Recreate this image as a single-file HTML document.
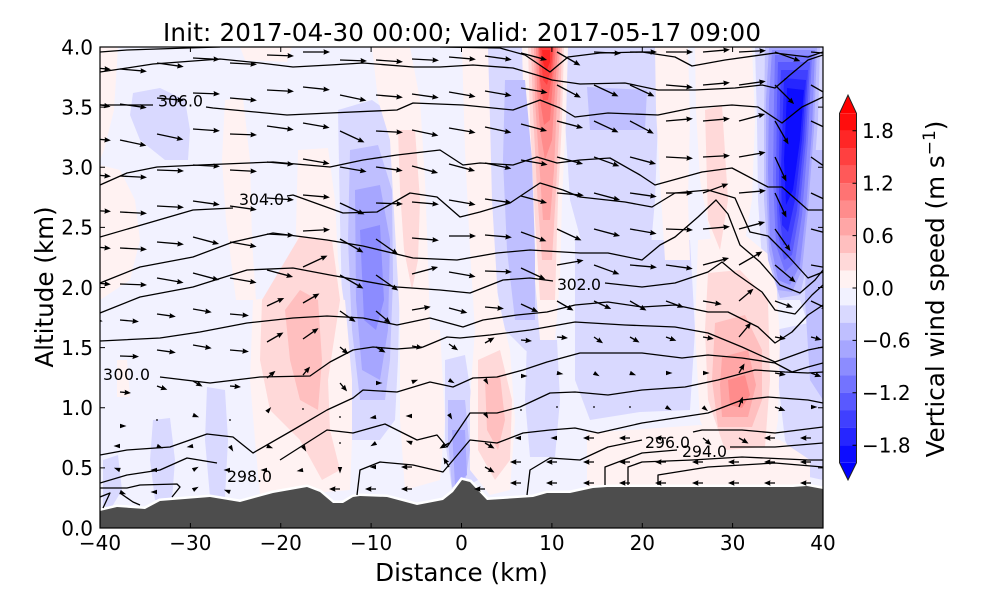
<!DOCTYPE html>
<html><head><meta charset="utf-8"><style>
html,body{margin:0;padding:0;background:#fff;}
svg{display:block;}
text{font-family:"DejaVu Sans","Liberation Sans",sans-serif;fill:#000;}
</style></head><body>
<svg width="1000" height="600" viewBox="0 0 1000 600" xmlns="http://www.w3.org/2000/svg">
<defs>
<clipPath id="pc"><rect x="100" y="47" width="723" height="481"/></clipPath>
<path id="A" d="M0,-0.65L21,-0.65L20.5,-2.7L27,0L20.5,2.7L21,0.65L0,0.65Z"/>
<path id="B" d="M0,-0.65L13,-0.65L12.5,-2.7L19,0L12.5,2.7L13,0.65L0,0.65Z"/>
<path id="C" d="M0,-0.65L5,-0.65L4.5,-2.7L11,0L4.5,2.7L5,0.65L0,0.65Z"/>
<path id="D" d="M0,-2.2L6.5,0L0,2.2Z"/>
<circle id="E" cx="0" cy="0" r="0.9"/>
</defs>
<rect width="1000" height="600" fill="#fff"/>
<g clip-path="url(#pc)">
<rect x="100" y="47" width="723" height="481" fill="#f2f2ff"/>
<!-- light blue -->
<g fill="#d9d9ff">
<polygon points="133,93 160,88 185,100 190,130 188,160 165,160 140,140 130,115"/>
<polygon points="338,110 372,100 400,120 402,200 400,280 398,360 395,420 380,440 352,440 345,380 342,300 340,220"/>
<polygon points="470,47 530,47 540,120 545,240 548,330 540,360 525,350 505,330 495,280 480,200 472,120"/>
<polygon points="445,360 465,355 475,420 478,480 465,487 452,490 445,440"/>
<polygon points="560,47 655,47 658,120 655,200 650,257 620,262 585,255 570,200 565,120"/>
<polygon points="575,240 690,240 695,330 690,410 640,412 590,420 575,380"/>
<polygon points="103,460 118,455 122,490 110,510 103,505"/>
<polygon points="153,420 170,418 175,460 172,500 155,500 150,460"/>
<polygon points="207,387 225,390 228,440 225,497 210,497 205,440"/>
<polygon points="527,340 557,340 560,400 555,457 530,457 525,400"/>
<polygon points="775,330 823,320 823,480 800,475 785,440 778,380"/>
<polygon points="755,47 823,47 823,330 810,330 800,300 790,300 772,300 762,260 758,200 757,120"/>
</g>
<!-- pink -->
<g fill="#fff2f2">
<polygon points="100,47 118,47 114,110 104,150 100,160"/>
<polygon points="100,165 120,170 135,200 140,240 130,280 100,300"/>
<polygon points="117,360 127,360 130,397 117,397"/>
<polygon points="240,47 292,47 287,62 245,60"/>
<polygon points="225,100 243,98 250,160 252,240 256,300 236,300 226,220 222,160"/>
<polygon points="298,150 328,148 335,200 338,260 345,310 300,300 296,230"/>
<polygon points="253,300 300,292 345,300 352,380 352,440 350,490 300,494 260,495 255,440 250,380"/>
<polygon points="372,47 410,47 420,100 425,180 428,260 430,330 432,420 420,440 405,400 400,320 395,230 390,140 378,100"/>
<polygon points="400,330 440,330 445,420 440,480 405,490 400,420"/>
<polygon points="462,47 488,47 490,120 492,200 498,300 510,350 515,420 510,490 490,495 470,470 470,400 475,330 470,250 465,150"/>
<polygon points="522,47 568,47 566,120 562,200 560,280 555,340 540,340 535,280 528,200 524,120"/>
<polygon points="655,47 688,47 690,120 688,200 690,260 665,260 660,180 656,110"/>
<polygon points="695,47 752,47 755,120 752,200 745,240 712,245 700,180 696,110"/>
<polygon points="698,240 745,235 775,260 780,340 778,420 770,467 720,470 700,420 695,330"/>
<polygon points="587,433 700,425 780,440 810,460 810,490 587,490"/>
</g>
<g fill="#ffd9d9">
<polygon points="262,300 300,236 332,240 340,300 328,380 330,430 340,470 322,480 300,440 270,410 260,360"/>
<polygon points="398,130 415,130 420,200 418,260 412,290 404,250 400,190"/>
<polygon points="478,360 500,350 512,400 510,460 495,480 478,450"/>
<polygon points="528,47 564,47 562,120 558,200 555,300 540,300 535,220 530,120"/>
<polygon points="705,110 722,105 728,200 720,250 708,220"/>
<polygon points="708,273 740,270 768,300 770,380 765,447 725,450 708,400 705,330"/>
</g>
<g fill="#ffbfbf">
<polygon points="285,310 300,290 318,300 322,360 318,410 300,400 290,360"/>
<polygon points="485,380 500,375 505,420 498,450 487,430"/>
<polygon points="531,47 562,47 560,110 556,190 552,260 542,260 537,190 533,110"/>
<polygon points="715,323 745,315 762,350 762,400 752,427 718,427 712,380"/>
</g>
<g fill="#ffa6a6">
<polygon points="534,47 560,47 557,100 554,170 550,220 543,220 539,160 535,100"/>
<polygon points="722,357 748,350 756,385 748,417 722,417 720,385"/>
</g>
<polygon fill="#ff8c8c" points="536,47 558,47 555,90 552,140 545,160 540,130 537,90"/>
<polygon fill="#ff8c8c" points="728,380 745,375 750,395 742,408 730,405"/>
<polygon fill="#ff7373" points="538,47 556,47 553,80 550,120 544,125 540,100"/>
<polygon fill="#ff5959" points="539,47 554,47 552,75 548,100 543,100 540,80"/>
<polygon fill="#ff4040" points="540,47 553,47 551,68 547,85 543,80"/>
<polygon fill="#ff2626" points="542,50 550,50 550,62 546,72 543,62"/>
<!-- medium blues -->
<g fill="#bfbfff">
<polygon points="350,150 378,145 392,190 393,280 390,360 385,400 360,400 352,330 348,240"/>
<polygon points="505,80 525,80 532,160 535,250 535,320 515,320 507,250 503,160"/>
<polygon points="448,400 465,400 470,450 465,483 452,487 448,440"/>
<polygon points="587,87 647,90 645,130 590,130"/>
<polygon points="808,150 823,150 823,400 810,380 805,300"/>
<polygon points="765,47 820,47 818,120 812,200 808,260 800,295 780,298 768,260 764,200 764,120"/>
</g>
<g fill="#a6a6ff">
<polygon points="355,190 380,185 390,240 388,330 380,380 362,370 356,300"/>
<polygon points="452,430 465,430 467,475 455,485"/>
<polygon points="769,48 817,48 814,130 808,210 802,270 792,292 778,290 769,250 766,180 766,100"/>
</g>
<polygon fill="#8c8cff" points="360,230 380,225 384,300 376,330 364,320"/>
<polygon fill="#8c8cff" points="772,50 815,50 812,130 806,210 800,265 790,285 778,280 770,240 768,170 769,100"/>
<polygon fill="#7373ff" points="775,55 812,55 808,140 802,215 795,262 785,272 776,245 773,180 774,100"/>
<polygon fill="#5959ff" points="778,62 810,62 806,140 799,215 792,255 784,260 778,235 776,180 777,100"/>
<polygon fill="#4040ff" points="781,70 808,70 804,140 797,210 790,245 783,245 779,210 779,160 780,100"/>
<polygon fill="#2626ff" points="784,78 806,80 802,140 795,200 788,232 782,225 781,170 783,110"/>
<polygon fill="#0d0dff" points="787,88 804,90 800,140 793,190 786,205 784,160 786,115"/>
<!-- terrain -->
<polyline fill="none" stroke="#fff" stroke-width="5" points="100,511 117,507 145,509 160,501 210,497 240,502 273,493 307,487 320,492 333,503 343,503 353,497 360,496 387,497 417,505 443,500 453,492 462,480 470,482 487,500 533,497 547,493 570,493 593,488 607,487 660,487 793,487 807,486 823,489"/>
<polygon fill="#4d4d4d" points="100,511 117,507 145,509 160,501 210,497 240,502 273,493 307,487 320,492 333,503 343,503 353,497 360,496 387,497 417,505 443,500 453,492 462,480 470,482 487,500 533,497 547,493 570,493 593,488 607,487 660,487 793,487 807,486 823,489 823,530 100,530"/>
<!-- contours -->
<g fill="none" stroke="#000" stroke-width="1.3" stroke-linejoin="round">
<polyline points="100,52 127,50 187,48 220,47"/>
<polyline points="440,47 500,48 525,55 550,72 568,57 600,53 642,52 675,57 692,66 725,60 775,53 808,57 823,52"/>
<polyline points="100,72 127,68 153,64 220,59 260,63 293,67 330,65 363,63 413,67 440,67 473,65 513,68 540,76 552,80 580,84 625,83 658,90 695,90 735,88 762,85 775,88 790,75 808,60 823,55"/>
<polyline points="100,105 153,105"/>
<polyline points="206,107 213,108 287,115 330,113 397,110 413,103 463,105 513,110 540,100 560,108 575,117 608,113 658,115 692,108 732,105 758,107 782,123 802,107 823,97"/>
<polyline points="100,185 127,173 157,167 200,165 273,162 330,167 363,160 397,155 440,150 463,165 480,163 513,165 537,157 557,163 580,160 610,158 640,175 655,185 702,172 732,168 768,187 782,187 808,210 823,210"/>
<polyline points="100,237 193,210 233,208"/>
<polyline points="287,196 293,195 343,213 377,212 410,193 437,197 460,217 480,212 510,203 540,183 563,190 580,197 625,202 652,207 675,193 708,190 735,198 750,232 768,236 788,256 808,278 823,272"/>
<polyline points="100,283 140,267 193,257 233,242 273,233 327,240 363,246 413,258 457,260 497,253 530,250 580,253 608,253 642,260 660,245 675,237 698,217 716,200 728,214 740,245 760,262 780,285 800,293 815,280 823,270"/>
<polyline points="100,313 140,297 193,287 247,270 293,268 330,275 397,287 440,290 470,293 503,280 530,278 553,281"/>
<polyline points="605,283 642,287 675,283 708,272 722,262 735,273 762,292 775,310 795,314 812,295 823,285"/>
<polyline points="100,341 160,338 200,332 247,323 293,318 327,316 363,318 397,325 430,318 463,327 483,320 517,315 547,312 575,305 608,302 642,307 675,305 708,312 728,312 758,327 775,343 792,332 808,315 823,305"/>
<polyline points="160,377 210,383 260,377 310,376 330,362 353,350 373,347 397,349 423,347 447,337 460,338 490,335 530,330 575,322 625,325 675,327 708,333 742,347 775,362 808,350 823,347"/>
<polyline points="100,455 127,450 170,447 207,434 233,437 253,453 293,430 327,410 353,398 363,390 397,392 430,382 453,387 473,378 497,377 523,370 547,362 580,353 642,353 682,358 708,355 742,358 775,363 792,372 808,367 823,363"/>
<polyline points="100,483 127,475 160,470 187,458 217,463"/>
<polyline points="280,460 327,430 353,433 385,424 417,440 437,435 447,447 470,413 497,413 520,407 550,393 575,392 608,395 642,390 685,387 718,380 755,370 785,372 808,373 823,372"/>
<polyline points="357,495 360,470 380,462 413,465 443,472 470,440 497,443 523,433 550,430 575,428 598,433 642,423 675,418 708,413 742,400 768,397 808,400 823,403"/>
<polyline points="527,495 530,470 550,458 580,460 608,447 642,440"/>
<polyline points="693,432 702,430 742,430 775,433 823,427"/>
<polyline points="605,485 605,467 642,453 677,450"/>
<polyline points="730,447 775,447 823,443"/>
<polyline points="628,485 628,467 642,462 692,460 742,457 808,460 823,460"/>
<polyline points="658,485 658,475 708,467 775,463 823,467"/>
<polyline points="100,488 127,488 140,485 177,484 180,487 172,497"/>
<polyline points="100,497 110,493 103,508"/>
<polyline points="120,493 133,502 140,505"/>
</g>
<!-- contour labels -->
<g font-size="15.7">
<text x="158" y="106.5" textLength="45">306.0</text>
<text x="239" y="205" textLength="45">304.0</text>
<text x="557" y="290" textLength="44">302.0</text>
<text x="103" y="380" textLength="47">300.0</text>
<text x="227" y="482" textLength="45">298.0</text>
<text x="645" y="448" textLength="45">296.0</text>
<text x="682" y="457" textLength="45">294.0</text>
</g>
<!-- arrows -->
<g fill="#000">
<use href="#A" transform="translate(84,67)rotate(5)"/>
<use href="#A" transform="translate(120,69)rotate(5)"/>
<use href="#A" transform="translate(157,63)rotate(8)"/>
<use href="#A" transform="translate(193,58)rotate(3)"/>
<use href="#A" transform="translate(230,63)rotate(3)"/>
<use href="#A" transform="translate(267,55)rotate(2)"/>
<use href="#A" transform="translate(303,52)rotate(0)"/>
<use href="#A" transform="translate(340,60)rotate(2)"/>
<use href="#A" transform="translate(376,60)rotate(4)"/>
<use href="#A" transform="translate(412,59)rotate(3)"/>
<use href="#A" transform="translate(449,57)rotate(5)"/>
<use href="#A" transform="translate(485,56)rotate(8)"/>
<use href="#A" transform="translate(521,53)rotate(15)"/>
<use href="#A" transform="translate(557,52)rotate(30)"/>
<use href="#A" transform="translate(594,52)rotate(3)"/>
<use href="#A" transform="translate(630,52)rotate(0)"/>
<use href="#A" transform="translate(666,52)rotate(0)"/>
<use href="#A" transform="translate(703,52)rotate(-5)"/>
<use href="#A" transform="translate(739,52)rotate(-3)"/>
<use href="#A" transform="translate(775,52)rotate(20)"/>
<use href="#A" transform="translate(811,52)rotate(5)"/>
<use href="#A" transform="translate(84,102)rotate(10)"/>
<use href="#A" transform="translate(120,104)rotate(8)"/>
<use href="#A" transform="translate(157,98)rotate(5)"/>
<use href="#A" transform="translate(193,93)rotate(2)"/>
<use href="#A" transform="translate(230,98)rotate(5)"/>
<use href="#A" transform="translate(267,90)rotate(3)"/>
<use href="#A" transform="translate(303,87)rotate(6)"/>
<use href="#A" transform="translate(340,95)rotate(12)"/>
<use href="#A" transform="translate(376,95)rotate(5)"/>
<use href="#A" transform="translate(412,94)rotate(8)"/>
<use href="#A" transform="translate(449,92)rotate(10)"/>
<use href="#A" transform="translate(485,91)rotate(10)"/>
<use href="#A" transform="translate(521,88)rotate(10)"/>
<use href="#A" transform="translate(557,85)rotate(28)"/>
<use href="#A" transform="translate(594,85)rotate(25)"/>
<use href="#A" transform="translate(630,85)rotate(25)"/>
<use href="#A" transform="translate(666,85)rotate(5)"/>
<use href="#A" transform="translate(703,85)rotate(-5)"/>
<use href="#A" transform="translate(739,85)rotate(-8)"/>
<use href="#A" transform="translate(775,85)rotate(45)"/>
<use href="#A" transform="translate(811,85)rotate(30)"/>
<use href="#A" transform="translate(84,138)rotate(5)"/>
<use href="#A" transform="translate(120,140)rotate(12)"/>
<use href="#A" transform="translate(157,134)rotate(12)"/>
<use href="#A" transform="translate(193,129)rotate(4)"/>
<use href="#A" transform="translate(230,134)rotate(2)"/>
<use href="#A" transform="translate(267,126)rotate(8)"/>
<use href="#A" transform="translate(303,123)rotate(10)"/>
<use href="#A" transform="translate(340,131)rotate(25)"/>
<use href="#A" transform="translate(376,131)rotate(3)"/>
<use href="#A" transform="translate(412,130)rotate(12)"/>
<use href="#A" transform="translate(449,128)rotate(10)"/>
<use href="#A" transform="translate(485,127)rotate(12)"/>
<use href="#A" transform="translate(521,124)rotate(15)"/>
<use href="#A" transform="translate(557,121)rotate(15)"/>
<use href="#A" transform="translate(594,121)rotate(25)"/>
<use href="#A" transform="translate(630,121)rotate(28)"/>
<use href="#A" transform="translate(666,121)rotate(-5)"/>
<use href="#A" transform="translate(703,121)rotate(-5)"/>
<use href="#A" transform="translate(739,121)rotate(-15)"/>
<use href="#A" transform="translate(775,121)rotate(60)"/>
<use href="#A" transform="translate(811,121)rotate(25)"/>
<use href="#A" transform="translate(84,174)rotate(5)"/>
<use href="#A" transform="translate(120,176)rotate(3)"/>
<use href="#A" transform="translate(157,170)rotate(2)"/>
<use href="#A" transform="translate(193,165)rotate(3)"/>
<use href="#A" transform="translate(230,170)rotate(3)"/>
<use href="#A" transform="translate(267,162)rotate(5)"/>
<use href="#A" transform="translate(303,159)rotate(10)"/>
<use href="#A" transform="translate(340,167)rotate(10)"/>
<use href="#A" transform="translate(376,167)rotate(8)"/>
<use href="#A" transform="translate(412,166)rotate(15)"/>
<use href="#A" transform="translate(449,164)rotate(15)"/>
<use href="#A" transform="translate(485,163)rotate(12)"/>
<use href="#A" transform="translate(521,160)rotate(10)"/>
<use href="#A" transform="translate(557,157)rotate(15)"/>
<use href="#A" transform="translate(594,157)rotate(20)"/>
<use href="#A" transform="translate(630,157)rotate(15)"/>
<use href="#A" transform="translate(666,157)rotate(3)"/>
<use href="#A" transform="translate(703,157)rotate(-3)"/>
<use href="#A" transform="translate(739,157)rotate(-10)"/>
<use href="#A" transform="translate(775,157)rotate(65)"/>
<use href="#A" transform="translate(811,157)rotate(35)"/>
<use href="#A" transform="translate(84,210)rotate(3)"/>
<use href="#A" transform="translate(120,212)rotate(3)"/>
<use href="#A" transform="translate(157,206)rotate(3)"/>
<use href="#A" transform="translate(193,201)rotate(8)"/>
<use href="#A" transform="translate(230,206)rotate(8)"/>
<use href="#A" transform="translate(267,198)rotate(4)"/>
<use href="#A" transform="translate(303,195)rotate(5)"/>
<use href="#A" transform="translate(340,203)rotate(25)"/>
<use href="#A" transform="translate(376,203)rotate(2)"/>
<use href="#A" transform="translate(412,202)rotate(5)"/>
<use href="#A" transform="translate(449,200)rotate(10)"/>
<use href="#A" transform="translate(485,199)rotate(8)"/>
<use href="#A" transform="translate(521,196)rotate(15)"/>
<use href="#A" transform="translate(557,193)rotate(5)"/>
<use href="#A" transform="translate(594,193)rotate(15)"/>
<use href="#A" transform="translate(630,193)rotate(8)"/>
<use href="#A" transform="translate(666,193)rotate(0)"/>
<use href="#A" transform="translate(703,193)rotate(-20)"/>
<use href="#A" transform="translate(739,193)rotate(-5)"/>
<use href="#A" transform="translate(775,193)rotate(65)"/>
<use href="#A" transform="translate(811,193)rotate(25)"/>
<use href="#A" transform="translate(84,246)rotate(5)"/>
<use href="#A" transform="translate(120,248)rotate(3)"/>
<use href="#A" transform="translate(157,242)rotate(5)"/>
<use href="#A" transform="translate(193,237)rotate(15)"/>
<use href="#A" transform="translate(230,242)rotate(10)"/>
<use href="#A" transform="translate(267,234)rotate(3)"/>
<use href="#A" transform="translate(303,231)rotate(-3)"/>
<use href="#A" transform="translate(340,239)rotate(30)"/>
<use href="#A" transform="translate(376,239)rotate(35)"/>
<use href="#A" transform="translate(412,238)rotate(5)"/>
<use href="#A" transform="translate(449,236)rotate(0)"/>
<use href="#A" transform="translate(485,235)rotate(5)"/>
<use href="#A" transform="translate(521,232)rotate(20)"/>
<use href="#A" transform="translate(557,229)rotate(25)"/>
<use href="#A" transform="translate(594,229)rotate(15)"/>
<use href="#A" transform="translate(630,229)rotate(10)"/>
<use href="#A" transform="translate(666,229)rotate(2)"/>
<use href="#A" transform="translate(703,229)rotate(-5)"/>
<use href="#A" transform="translate(739,229)rotate(-15)"/>
<use href="#A" transform="translate(775,229)rotate(55)"/>
<use href="#A" transform="translate(811,229)rotate(15)"/>
<use href="#A" transform="translate(84,282)rotate(5)"/>
<use href="#A" transform="translate(120,284)rotate(2)"/>
<use href="#A" transform="translate(157,278)rotate(10)"/>
<use href="#A" transform="translate(193,273)rotate(15)"/>
<use href="#A" transform="translate(230,278)rotate(10)"/>
<use href="#A" transform="translate(267,270)rotate(15)"/>
<use href="#A" transform="translate(303,267)rotate(-25)"/>
<use href="#A" transform="translate(340,275)rotate(30)"/>
<use href="#A" transform="translate(376,275)rotate(35)"/>
<use href="#A" transform="translate(412,274)rotate(-15)"/>
<use href="#A" transform="translate(449,272)rotate(10)"/>
<use href="#A" transform="translate(485,271)rotate(2)"/>
<use href="#A" transform="translate(521,268)rotate(25)"/>
<use href="#A" transform="translate(557,265)rotate(-10)"/>
<use href="#A" transform="translate(594,265)rotate(20)"/>
<use href="#A" transform="translate(630,265)rotate(5)"/>
<use href="#A" transform="translate(666,265)rotate(8)"/>
<use href="#A" transform="translate(703,265)rotate(-15)"/>
<use href="#A" transform="translate(739,265)rotate(-30)"/>
<use href="#A" transform="translate(775,265)rotate(40)"/>
<use href="#A" transform="translate(811,265)rotate(10)"/>
<use href="#B" transform="translate(84,318)rotate(10)"/>
<use href="#B" transform="translate(120,320)rotate(5)"/>
<use href="#B" transform="translate(157,314)rotate(8)"/>
<use href="#B" transform="translate(193,309)rotate(10)"/>
<use href="#B" transform="translate(230,314)rotate(5)"/>
<use href="#B" transform="translate(267,306)rotate(-25)"/>
<use href="#B" transform="translate(303,303)rotate(-30)"/>
<use href="#B" transform="translate(340,311)rotate(35)"/>
<use href="#B" transform="translate(376,311)rotate(40)"/>
<use href="#B" transform="translate(412,310)rotate(-10)"/>
<use href="#B" transform="translate(449,308)rotate(15)"/>
<use href="#B" transform="translate(485,307)rotate(5)"/>
<use href="#B" transform="translate(521,304)rotate(25)"/>
<use href="#B" transform="translate(557,301)rotate(30)"/>
<use href="#B" transform="translate(594,301)rotate(25)"/>
<use href="#B" transform="translate(630,301)rotate(30)"/>
<use href="#B" transform="translate(666,301)rotate(20)"/>
<use href="#B" transform="translate(703,301)rotate(10)"/>
<use href="#B" transform="translate(739,301)rotate(-40)"/>
<use href="#B" transform="translate(775,301)rotate(20)"/>
<use href="#B" transform="translate(811,301)rotate(25)"/>
<use href="#C" transform="translate(84,354)rotate(0)"/>
<use href="#B" transform="translate(120,356)rotate(2)"/>
<use href="#B" transform="translate(157,350)rotate(8)"/>
<use href="#B" transform="translate(193,345)rotate(10)"/>
<use href="#B" transform="translate(230,350)rotate(5)"/>
<use href="#B" transform="translate(267,342)rotate(-30)"/>
<use href="#B" transform="translate(303,339)rotate(-35)"/>
<use href="#C" transform="translate(340,347)rotate(40)"/>
<use href="#C" transform="translate(376,347)rotate(30)"/>
<use href="#C" transform="translate(412,346)rotate(10)"/>
<use href="#C" transform="translate(449,344)rotate(35)"/>
<use href="#C" transform="translate(485,343)rotate(-30)"/>
<use href="#C" transform="translate(521,340)rotate(5)"/>
<use href="#C" transform="translate(557,337)rotate(5)"/>
<use href="#C" transform="translate(594,337)rotate(35)"/>
<use href="#C" transform="translate(630,337)rotate(30)"/>
<use href="#C" transform="translate(666,337)rotate(20)"/>
<use href="#C" transform="translate(703,337)rotate(10)"/>
<use href="#B" transform="translate(739,337)rotate(-50)"/>
<use href="#C" transform="translate(775,337)rotate(10)"/>
<use href="#C" transform="translate(811,337)rotate(15)"/>
<use href="#C" transform="translate(84,390)rotate(0)"/>
<use href="#C" transform="translate(120,392)rotate(5)"/>
<use href="#C" transform="translate(157,386)rotate(20)"/>
<use href="#C" transform="translate(193,381)rotate(30)"/>
<use href="#C" transform="translate(230,386)rotate(5)"/>
<use href="#C" transform="translate(267,378)rotate(-40)"/>
<use href="#C" transform="translate(303,375)rotate(-50)"/>
<use href="#C" transform="translate(340,383)rotate(50)"/>
<use href="#D" transform="translate(376,383)rotate(0)"/>
<use href="#D" transform="translate(412,382)rotate(-20)"/>
<use href="#D" transform="translate(449,380)rotate(30)"/>
<use href="#D" transform="translate(485,379)rotate(60)"/>
<use href="#D" transform="translate(521,376)rotate(0)"/>
<use href="#D" transform="translate(557,373)rotate(10)"/>
<use href="#D" transform="translate(594,373)rotate(30)"/>
<use href="#D" transform="translate(630,373)rotate(20)"/>
<use href="#D" transform="translate(666,373)rotate(0)"/>
<use href="#D" transform="translate(703,373)rotate(0)"/>
<use href="#C" transform="translate(739,373)rotate(-60)"/>
<use href="#C" transform="translate(775,373)rotate(10)"/>
<use href="#C" transform="translate(811,373)rotate(20)"/>
<use href="#C" transform="translate(84,424)rotate(0)"/>
<use href="#D" transform="translate(120,426)rotate(0)"/>
<use href="#E" transform="translate(157,420)"/>
<use href="#D" transform="translate(193,415)rotate(20)"/>
<use href="#E" transform="translate(230,420)"/>
<use href="#D" transform="translate(267,412)rotate(-50)"/>
<use href="#E" transform="translate(303,409)"/>
<use href="#E" transform="translate(340,417)"/>
<use href="#D" transform="translate(376,417)rotate(170)"/>
<use href="#D" transform="translate(412,416)rotate(180)"/>
<use href="#D" transform="translate(449,414)rotate(60)"/>
<use href="#D" transform="translate(485,413)rotate(60)"/>
<use href="#E" transform="translate(521,410)"/>
<use href="#E" transform="translate(557,407)"/>
<use href="#E" transform="translate(594,407)"/>
<use href="#E" transform="translate(630,407)"/>
<use href="#D" transform="translate(666,407)rotate(30)"/>
<use href="#D" transform="translate(703,407)rotate(40)"/>
<use href="#C" transform="translate(739,407)rotate(-70)"/>
<use href="#C" transform="translate(775,407)rotate(20)"/>
<use href="#D" transform="translate(811,407)rotate(0)"/>
<use href="#C" transform="translate(84,446)rotate(180)"/>
<use href="#D" transform="translate(120,446)rotate(180)"/>
<use href="#D" transform="translate(157,446)rotate(20)"/>
<use href="#D" transform="translate(193,446)rotate(170)"/>
<use href="#D" transform="translate(230,446)rotate(60)"/>
<use href="#D" transform="translate(267,446)rotate(20)"/>
<use href="#D" transform="translate(303,446)rotate(60)"/>
<use href="#E" transform="translate(340,443)"/>
<use href="#D" transform="translate(376,443)rotate(150)"/>
<use href="#D" transform="translate(412,443)rotate(200)"/>
<use href="#C" transform="translate(449,443)rotate(150)"/>
<use href="#C" transform="translate(485,443)rotate(30)"/>
<use href="#D" transform="translate(521,438)rotate(180)"/>
<use href="#D" transform="translate(557,438)rotate(180)"/>
<use href="#C" transform="translate(594,438)rotate(180)"/>
<use href="#C" transform="translate(630,438)rotate(180)"/>
<use href="#C" transform="translate(666,438)rotate(180)"/>
<use href="#C" transform="translate(703,438)rotate(40)"/>
<use href="#C" transform="translate(739,438)rotate(30)"/>
<use href="#C" transform="translate(775,438)rotate(180)"/>
<use href="#C" transform="translate(811,438)rotate(180)"/>
<use href="#D" transform="translate(84,470)rotate(180)"/>
<use href="#D" transform="translate(120,470)rotate(200)"/>
<use href="#D" transform="translate(157,470)rotate(180)"/>
<use href="#D" transform="translate(193,470)rotate(-30)"/>
<use href="#D" transform="translate(230,470)rotate(180)"/>
<use href="#D" transform="translate(267,470)rotate(180)"/>
<use href="#D" transform="translate(303,470)rotate(170)"/>
<use href="#D" transform="translate(340,467)rotate(90)"/>
<use href="#D" transform="translate(376,467)rotate(180)"/>
<use href="#C" transform="translate(412,467)rotate(180)"/>
<use href="#C" transform="translate(449,467)rotate(240)"/>
<use href="#C" transform="translate(485,467)rotate(30)"/>
<use href="#C" transform="translate(521,462)rotate(180)"/>
<use href="#C" transform="translate(557,462)rotate(180)"/>
<use href="#C" transform="translate(594,462)rotate(180)"/>
<use href="#C" transform="translate(630,462)rotate(180)"/>
<use href="#C" transform="translate(666,462)rotate(180)"/>
<use href="#C" transform="translate(703,462)rotate(180)"/>
<use href="#C" transform="translate(739,462)rotate(180)"/>
<use href="#C" transform="translate(775,462)rotate(180)"/>
<use href="#C" transform="translate(811,462)rotate(180)"/>
<use href="#D" transform="translate(84,492)rotate(200)"/>
<use href="#D" transform="translate(120,492)rotate(20)"/>
<use href="#D" transform="translate(157,492)rotate(180)"/>
<use href="#D" transform="translate(193,490)rotate(-30)"/>
<use href="#D" transform="translate(230,492)rotate(200)"/>
<use href="#C" transform="translate(340,489)rotate(180)"/>
<use href="#C" transform="translate(376,489)rotate(180)"/>
<use href="#C" transform="translate(412,489)rotate(180)"/>
<use href="#C" transform="translate(485,489)rotate(180)"/>
<use href="#C" transform="translate(521,483)rotate(180)"/>
<use href="#C" transform="translate(557,483)rotate(180)"/>
<use href="#C" transform="translate(594,483)rotate(180)"/>
<use href="#C" transform="translate(630,483)rotate(180)"/>
<use href="#C" transform="translate(666,483)rotate(180)"/>
<use href="#C" transform="translate(703,483)rotate(180)"/>
<use href="#C" transform="translate(739,483)rotate(180)"/>
<use href="#C" transform="translate(775,483)rotate(180)"/>
<use href="#C" transform="translate(811,483)rotate(180)"/>
</g>
</g>
<!-- frame -->
<rect x="100" y="47" width="723" height="481" fill="none" stroke="#000" stroke-width="1.2"/>
<g stroke="#000" stroke-width="1">
<path d="M190.4,528v-5M280.75,528v-5M371.1,528v-5M461.5,528v-5M551.9,528v-5M642.3,528v-5M732.6,528v-5"/>
<path d="M190.4,47v5M280.75,47v5M371.1,47v5M461.5,47v5M551.9,47v5M642.3,47v5M732.6,47v5"/>
<path d="M100,467.9h5M100,407.75h5M100,347.6h5M100,287.5h5M100,227.4h5M100,167.25h5M100,107.1h5"/>
<path d="M823,467.9h-5M823,407.75h-5M823,347.6h-5M823,287.5h-5M823,227.4h-5M823,167.25h-5M823,107.1h-5"/>
</g>
<g font-size="20" text-anchor="end">
<text x="93" y="535.3">0.0</text>
<text x="93" y="475.2">0.5</text>
<text x="93" y="415">1.0</text>
<text x="93" y="354.9">1.5</text>
<text x="93" y="294.8">2.0</text>
<text x="93" y="234.7">2.5</text>
<text x="93" y="174.5">3.0</text>
<text x="93" y="114.4">3.5</text>
<text x="93" y="54.3">4.0</text>
</g>
<g font-size="20" text-anchor="middle">
<text x="100" y="550">−40</text>
<text x="190.4" y="550">−30</text>
<text x="280.75" y="550">−20</text>
<text x="371.1" y="550">−10</text>
<text x="461.5" y="550">0</text>
<text x="551.9" y="550">10</text>
<text x="642.3" y="550">20</text>
<text x="732.6" y="550">30</text>
<text x="823" y="550">40</text>
</g>
<text x="461.5" y="581" font-size="24.6" text-anchor="middle">Distance (km)</text>
<text transform="translate(53,287)rotate(-90)" font-size="24.6" text-anchor="middle">Altitude (km)</text>
<text x="462" y="41" font-size="24.6" text-anchor="middle" textLength="598">Init: 2017-04-30 00:00; Valid: 2017-05-17 09:00</text>
<!-- colorbar -->
<polygon points="839.5,113.3 848,95 856.5,113.3" fill="#ff0000"/>
<polygon points="839.5,462.7 848,480 856.5,462.7" fill="#0000ff"/>
<g>
<rect x="839.5" y="113.3" width="17" height="17.6" fill="#ff0d0d"/>
<rect x="839.5" y="130.8" width="17" height="17.6" fill="#ff2626"/>
<rect x="839.5" y="148.2" width="17" height="17.6" fill="#ff4040"/>
<rect x="839.5" y="165.7" width="17" height="17.6" fill="#ff5959"/>
<rect x="839.5" y="183.2" width="17" height="17.6" fill="#ff7373"/>
<rect x="839.5" y="200.6" width="17" height="17.6" fill="#ff8c8c"/>
<rect x="839.5" y="218.1" width="17" height="17.6" fill="#ffa6a6"/>
<rect x="839.5" y="235.6" width="17" height="17.6" fill="#ffbfbf"/>
<rect x="839.5" y="253.0" width="17" height="17.6" fill="#ffd9d9"/>
<rect x="839.5" y="270.5" width="17" height="17.6" fill="#fff2f2"/>
<rect x="839.5" y="288.0" width="17" height="17.6" fill="#f2f2ff"/>
<rect x="839.5" y="305.4" width="17" height="17.6" fill="#d9d9ff"/>
<rect x="839.5" y="322.9" width="17" height="17.6" fill="#bfbfff"/>
<rect x="839.5" y="340.4" width="17" height="17.6" fill="#a6a6ff"/>
<rect x="839.5" y="357.8" width="17" height="17.6" fill="#8c8cff"/>
<rect x="839.5" y="375.3" width="17" height="17.6" fill="#7373ff"/>
<rect x="839.5" y="392.8" width="17" height="17.6" fill="#5959ff"/>
<rect x="839.5" y="410.2" width="17" height="17.6" fill="#4040ff"/>
<rect x="839.5" y="427.7" width="17" height="17.6" fill="#2626ff"/>
<rect x="839.5" y="445.2" width="17" height="17.5" fill="#0d0dff"/>
</g>
<polygon points="839.5,113.3 848,95 856.5,113.3 856.5,462.7 848,480 839.5,462.7" fill="none" stroke="#222" stroke-width="1"/>
<path d="M852.5,130.8h4M852.5,183.2h4M852.5,235.6h4M852.5,288h4M852.5,340.4h4M852.5,392.8h4M852.5,445.2h4" stroke="#000" stroke-width="1"/>
<g font-size="20">
<text x="862" y="138.1">1.8</text>
<text x="862" y="190.5">1.2</text>
<text x="862" y="242.9">0.6</text>
<text x="862" y="295.3">0.0</text>
<text x="862" y="347.7">−0.6</text>
<text x="862" y="400.1">−1.2</text>
<text x="862" y="452.5">−1.8</text>
</g>
<text transform="translate(944,289)rotate(-90)" font-size="24.6" text-anchor="middle">Vertical wind speed (m s<tspan font-size="17" dy="-9">−1</tspan><tspan dy="9">)</tspan></text>
</svg>
</body></html>
